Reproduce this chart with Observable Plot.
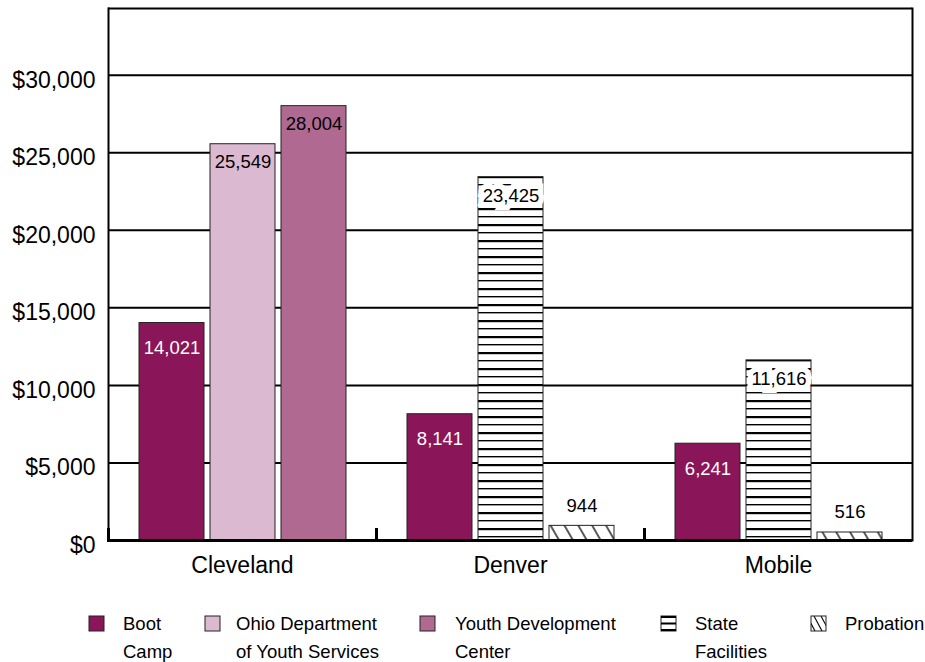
<!DOCTYPE html>
<html><head><meta charset="utf-8">
<script src="https://cdn.jsdelivr.net/npm/d3@7"></script>
<script src="https://cdn.jsdelivr.net/npm/@observablehq/plot@0.6"></script>
<style>
body{margin:0;background:#fff;font-family:"Liberation Sans",Arial,sans-serif;}
#wrap{position:relative;width:925px;height:662px;overflow:hidden;}
.leg{position:absolute;font-size:18.5px;line-height:28px;color:#000;white-space:nowrap;}
.sw{position:absolute;}
</style></head><body><div id="wrap"></div>
<script>
const cities = ["Cleveland", "Denver", "Mobile"];
const clevelandPrograms = ["Boot Camp", "Ohio Department of Youth Services", "Youth Development Center"];
const clevelandCosts = [14021, 25549, 28004];
const denverPrograms = ["Boot Camp", "State Facilities", "Probation"];
const denverCosts = [8141, 23425, 944];
const mobilePrograms = ["Boot Camp", "State Facilities", "Probation"];
const mobileCosts = [6241, 11616, 516];
const legendPrograms = ["Boot Camp", "Ohio Department of Youth Services", "Youth Development Center", "State Facilities", "Probation"];
const legendLines = [["Boot", "Camp"], ["Ohio Department", "of Youth Services"], ["Youth Development", "Center"], ["State", "Facilities"], ["Probation", ""]];
const yTicks = [0, 5000, 10000, 15000, 20000, 25000, 30000];
const yMax = 34300;

const programFill = {
  "Boot Camp": "#8b1559",
  "Ohio Department of Youth Services": "#dbb9d0",
  "Youth Development Center": "#b06a92",
  "State Facilities": "url(#hstripes)",
  "Probation": "url(#hatch)"
};

const rows = [];
[[clevelandPrograms, clevelandCosts], [denverPrograms, denverCosts], [mobilePrograms, mobileCosts]].forEach(([progs, costs], ci) => {
  progs.forEach((p, i) => rows.push({city: cities[ci], slot: i, program: p, cost: costs[i]}));
});
const fmt = d3.format(",");
const bootRows = rows.filter(d => d.program === "Boot Camp");
const solidRows = rows.filter(d => d.program !== "Boot Camp" && d.cost > 5000 && !programFill[d.program].startsWith("url"));
const patternRows = rows.filter(d => d.cost > 5000 && programFill[d.program].startsWith("url"));
const aboveRows = rows.filter(d => d.cost <= 5000);

const chart = Plot.plot({
  width: 925,
  height: 590,
  marginTop: 8,
  marginBottom: 50,
  marginLeft: 108,
  marginRight: 13,
  style: {fontFamily: "'Liberation Sans', Arial, sans-serif", fontSize: "20px", color: "#000", background: "white"},
  fx: {domain: cities, padding: 0, label: null},
  x: {domain: [0, 1, 2], paddingInner: 0.09, paddingOuter: 0.41, axis: null},
  y: {domain: [0, yMax], label: null},
  color: {type: "identity"},
  marks: [
    Plot.ruleY(yTicks.slice(1), {stroke: "#000", strokeWidth: 2}),
    Plot.barY(rows, {fx: "city", x: "slot", y: "cost", fill: d => programFill[d.program], stroke: "#222", strokeWidth: 1}),
    Plot.text(bootRows, {fx: "city", x: "slot", y: "cost", text: d => fmt(d.cost), dy: 25, fill: "white", fontSize: 18.5}),
    Plot.text(solidRows, {fx: "city", x: "slot", y: "cost", text: d => fmt(d.cost), dy: 18, fill: "black", fontSize: 18.5}),
    Plot.text(patternRows, {fx: "city", x: "slot", y: "cost", text: d => fmt(d.cost), dy: 19, fill: "black", stroke: "white", strokeWidth: 11, paintOrder: "stroke", strokeLinejoin: "miter", fontSize: 18.5}),
    Plot.text(aboveRows, {fx: "city", x: "slot", y: "cost", text: d => fmt(d.cost), dy: -20, fill: "black", fontSize: 18.5}),
    Plot.ruleY([0], {stroke: "#000", strokeWidth: 3}),
    Plot.ruleY([yMax], {stroke: "#000", strokeWidth: 2}),
    Plot.frame({anchor: "left", facetAnchor: "left", stroke: "#000", strokeWidth: 2}),
    Plot.frame({anchor: "right", facetAnchor: "right", stroke: "#000", strokeWidth: 2}),
    Plot.frame({anchor: "left", insetTop: 521, stroke: "#000", strokeWidth: 3}),
    Plot.axisY(yTicks, {tickSize: 0, tickPadding: 13, tickFormat: d => "$" + fmt(d), fontSize: 23, dy: 5, label: null}),
    Plot.axisFx({anchor: "bottom", tickSize: 0, tickPadding: 16, fontSize: 23, label: null})
  ]
});

d3.select(chart).insert("defs", ":first-child").html(`
  <pattern id="hstripes" patternUnits="userSpaceOnUse" width="8" height="16">
    <rect width="8" height="16" fill="white"/>
    <rect y="0" width="8" height="2.2" fill="black"/>
    <rect y="8" width="8" height="1.4" fill="black"/>
  </pattern>
  <pattern id="hatch" patternUnits="userSpaceOnUse" width="12" height="12" patternTransform="rotate(-30)">
    <rect width="12" height="12" fill="white"/>
    <line x1="6" y1="0" x2="6" y2="12" stroke="black" stroke-width="1.3"/>
  </pattern>`);

const wrap = document.getElementById("wrap");
wrap.appendChild(chart);

const swX = [88, 204, 419, 660, 810];
const txX = [123, 236, 455, 695, 845];
legendPrograms.forEach((p, i) => {
  const sw = document.createElementNS("http://www.w3.org/2000/svg", "svg");
  sw.setAttribute("class", "sw");
  sw.setAttribute("width", 17); sw.setAttribute("height", 17);
  sw.style.left = swX[i] + "px"; sw.style.top = "615px";
  let inner;
  if (p === "State Facilities") {
    inner = `<rect x="1" y="1" width="15" height="15" fill="white" stroke="#222" stroke-width="1"/>
      <rect x="1" y="1" width="15" height="2" fill="black"/><rect x="1" y="7.5" width="15" height="2" fill="black"/><rect x="1" y="14" width="15" height="2" fill="black"/>`;
  } else if (p === "Probation") {
    inner = `<defs><clipPath id="lc"><rect x="1" y="1" width="15" height="15"/></clipPath></defs>
      <rect x="1" y="1" width="15" height="15" fill="white"/>
      <g clip-path="url(#lc)" stroke="black" stroke-width="1.1"><line x1="-3" y1="1" x2="5" y2="16"/><line x1="4" y1="1" x2="12" y2="16"/><line x1="11" y1="1" x2="19" y2="16"/></g>
      <rect x="1" y="1" width="15" height="15" fill="none" stroke="#222" stroke-width="1"/>`;
  } else {
    inner = `<rect x="1" y="1" width="15" height="15" fill="${programFill[p]}" stroke="#222" stroke-width="1"/>`;
  }
  sw.innerHTML = inner;
  wrap.appendChild(sw);
  const t = document.createElement("div");
  t.className = "leg";
  t.style.left = txX[i] + "px"; t.style.top = "610px";
  t.innerHTML = legendLines[i][0] + "<br>" + legendLines[i][1];
  wrap.appendChild(t);
});
</script></body></html>
